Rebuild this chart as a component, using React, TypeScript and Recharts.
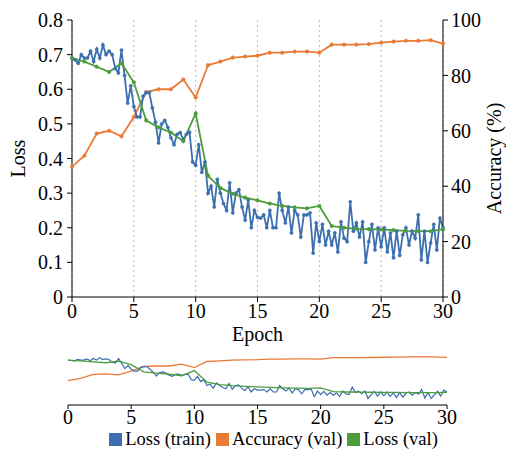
import React from 'react';
import { LineChart, Line, XAxis, YAxis, CartesianGrid, Legend } from 'recharts';

const EPOCH_TICKS = [0, 5, 10, 15, 20, 25, 30];
const LOSS_TICKS = [0, 0.1, 0.2, 0.3, 0.4, 0.5, 0.6, 0.7, 0.8];
const ACC_TICKS = [0, 10, 20, 30, 40, 50, 60, 70, 80, 90, 100];

// training loss, sampled every quarter epoch (0 .. 30)
const TRAIN_LOSS = [
  0.69, 0.685, 0.675, 0.70, 0.69, 0.69, 0.71, 0.68, 0.716, 0.69,
  0.728, 0.70, 0.71, 0.70, 0.66, 0.647, 0.713, 0.64, 0.56, 0.61,
  0.55, 0.52, 0.52, 0.58, 0.59, 0.59, 0.546, 0.505, 0.445, 0.50,
  0.51, 0.49, 0.46, 0.44, 0.47, 0.475, 0.455, 0.47, 0.476, 0.39,
  0.38, 0.44, 0.36, 0.39, 0.30, 0.32, 0.26, 0.34, 0.30, 0.27,
  0.25, 0.33, 0.243, 0.30, 0.31, 0.26, 0.222, 0.28, 0.20, 0.25,
  0.23, 0.228, 0.237, 0.20, 0.25, 0.20, 0.20, 0.30, 0.25, 0.214,
  0.26, 0.185, 0.25, 0.237, 0.173, 0.237, 0.237, 0.243, 0.127, 0.214,
  0.16, 0.21, 0.15, 0.19, 0.15, 0.185, 0.13, 0.217, 0.17, 0.16,
  0.275, 0.19, 0.214, 0.173, 0.217, 0.10, 0.16, 0.21, 0.136, 0.20,
  0.145, 0.20, 0.13, 0.185, 0.113, 0.19, 0.12, 0.18, 0.20, 0.15,
  0.19, 0.17, 0.237, 0.107, 0.19, 0.10, 0.156, 0.21, 0.136, 0.228,
  0.20,
];

// validation loss, one per epoch (0 .. 30)
const VAL_LOSS = [
  0.69, 0.68, 0.665, 0.65, 0.675, 0.62, 0.51, 0.49, 0.475, 0.45,
  0.53, 0.35, 0.315, 0.298, 0.287, 0.279, 0.27, 0.263, 0.259, 0.256,
  0.263, 0.205, 0.20, 0.197, 0.196, 0.195, 0.193, 0.191, 0.19, 0.19,
  0.195,
];

// validation accuracy (%), one per epoch (0 .. 30)
const VAL_ACC = [
  47, 51, 59, 60, 58, 65, 74, 75, 75, 78.5,
  72, 83.7, 85, 86.4, 86.8, 87.1, 88.2, 88.2, 88.6, 88.6,
  88.2, 91.1, 91.1, 91.1, 91.3, 91.8, 92.2, 92.5, 92.5, 92.7,
  91.5,
];

const STEPS_PER_EPOCH = 4;

const rows = TRAIN_LOSS.map((t, k) => {
  const onEpoch = k % STEPS_PER_EPOCH === 0;
  const e = k / STEPS_PER_EPOCH;
  return {
    epoch: e,
    train: t,
    valLoss: onEpoch ? VAL_LOSS[e] : null,
    acc: onEpoch ? VAL_ACC[e] : null,
  };
});

const BLUE = '#3b6fb0';
const ORANGE = '#ea7b36';
const GREEN = '#4c9c3c';
const FONT = "'Liberation Serif', 'DejaVu Serif', serif";
const tickStyle = { fontSize: 20, fill: '#000', style: { fontFamily: FONT, fontSize: 20 } };

const VTitle = (props: any) => {
  const { viewBox, value, dx } = props;
  const cx = viewBox.x + dx;
  const cy = viewBox.y + viewBox.height / 2;
  return (
    <text
      x={cx}
      y={cy}
      transform={`rotate(-90 ${cx} ${cy})`}
      textAnchor="middle"
      dominantBaseline="central"
      style={{ fontFamily: FONT, fontSize: 20 }}
      fill="#000"
    >
      {value}
    </text>
  );
};

const HTitle = (props: any) => {
  const { viewBox, value, dy } = props;
  const cx = viewBox.x + viewBox.width / 2;
  const cy = viewBox.y + dy;
  return (
    <text x={cx} y={cy} textAnchor="middle" dominantBaseline="central" style={{ fontFamily: FONT, fontSize: 20 }} fill="#000">
      {value}
    </text>
  );
};

const LEGEND_ITEMS = [
  { name: 'Loss (train)', color: BLUE },
  { name: 'Accuracy (val)', color: ORANGE },
  { name: 'Loss (val)', color: GREEN },
];

const LegendContent = () => (
  <div style={{ display: 'flex', justifyContent: 'center', alignItems: 'center', fontFamily: FONT, fontSize: 18.5, color: '#000', height: 22, paddingLeft: 46 }}>
    {LEGEND_ITEMS.map((it) => (
      <span key={it.name} style={{ display: 'inline-flex', alignItems: 'center', marginRight: 5 }}>
        <span style={{ display: 'inline-block', width: 13, height: 13, background: it.color, marginRight: 3 }} />
        {it.name}
      </span>
    ))}
  </div>
);

export default function App() {
  return (
    <div style={{ position: 'absolute', left: 0, top: 0, width: 506, height: 455, background: '#fff', fontFamily: FONT }}>
      <div style={{ position: 'absolute', left: 0, top: 0 }}>
        <LineChart width={506} height={350} data={rows} margin={{ top: 20, right: 0, bottom: 8, left: 0 }}>
          <CartesianGrid vertical horizontal={false} stroke="#b8b8b8" strokeDasharray="2 3" />
          <XAxis
            type="number"
            dataKey="epoch"
            domain={[0, 30]}
            ticks={EPOCH_TICKS}
            height={45}
            tick={tickStyle}
            tickSize={5}
            tickMargin={2}
            stroke="#000"
            label={<HTitle value="Epoch" dy={37} />}
          />
          <YAxis
            yAxisId="loss"
            domain={[0, 0.8]}
            ticks={LOSS_TICKS}
            width={72}
            tick={tickStyle}
            tickSize={5}
            tickMargin={4}
            stroke="#000"
            tickFormatter={(v: number) => (v === 0 ? '0' : v.toFixed(1))}
            label={<VTitle value="Loss" dx={18} />}
          />
          <YAxis
            yAxisId="acc"
            orientation="right"
            domain={[0, 100]}
            ticks={ACC_TICKS}
            width={63}
            tick={tickStyle}
            tickSize={5}
            tickMargin={3}
            stroke="#000"
            label={<VTitle value="Accuracy (%)" dx={51} />}
          />
          <Line yAxisId="acc" dataKey="acc" stroke={ORANGE} strokeWidth={1.8} connectNulls dot={{ r: 1.8, fill: ORANGE, stroke: ORANGE, strokeWidth: 0.5 }} isAnimationActive={false} />
          <Line yAxisId="loss" dataKey="train" stroke={BLUE} strokeWidth={1.8} dot={{ r: 1.6, fill: BLUE, stroke: BLUE, strokeWidth: 0.5 }} isAnimationActive={false} />
          <Line yAxisId="loss" dataKey="valLoss" stroke={GREEN} strokeWidth={1.8} connectNulls dot={{ r: 1.8, fill: GREEN, stroke: GREEN, strokeWidth: 0.5 }} isAnimationActive={false} />
        </LineChart>
      </div>
      <div style={{ position: 'absolute', left: 0, top: 342 }}>
        <LineChart width={506} height={113} data={rows} margin={{ top: 11, right: 59, bottom: 0, left: 68 }}>
          <XAxis
            type="number"
            dataKey="epoch"
            domain={[0, 30]}
            ticks={EPOCH_TICKS}
            height={23}
            tick={tickStyle}
            tickSize={4}
            tickMargin={1}
            stroke="#000"
          />
          <YAxis yAxisId="loss" hide domain={[0, 0.8]} />
          <YAxis yAxisId="acc" hide orientation="right" domain={[0, 100]} />
          <Line yAxisId="acc" dataKey="acc" stroke={ORANGE} strokeWidth={1.3} connectNulls dot={false} isAnimationActive={false} />
          <Line yAxisId="loss" dataKey="train" stroke={BLUE} strokeWidth={1.2} dot={false} isAnimationActive={false} />
          <Line yAxisId="loss" dataKey="valLoss" stroke={GREEN} strokeWidth={1.3} connectNulls dot={false} isAnimationActive={false} />
          <Legend verticalAlign="bottom" content={<LegendContent />} wrapperStyle={{ left: 0, width: 506, height: 27, bottom: 0 }} />
        </LineChart>
      </div>
    </div>
  );
}
